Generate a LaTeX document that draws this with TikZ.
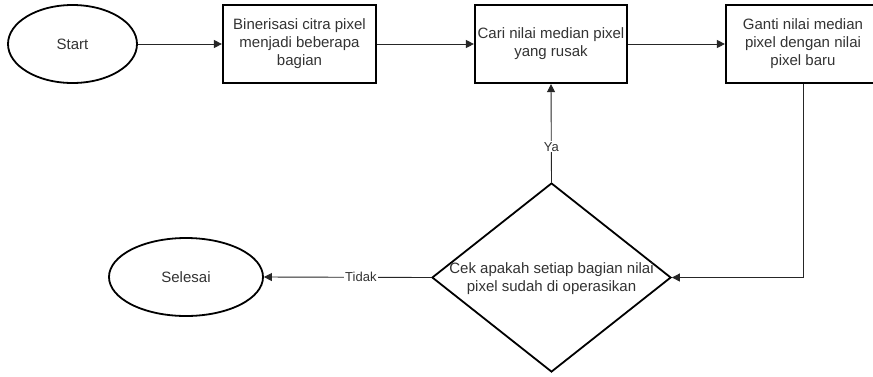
\documentclass[tikz,border=0pt]{standalone}
\usepackage{fontspec}
\setmainfont{Liberation Sans}
\usetikzlibrary{shapes.geometric,arrows.meta}
\definecolor{txt}{HTML}{333333}
\tikzset{
  base/.style={draw=black, fill=white, text=txt, align=center, inner sep=0pt,
    font=\fontsize{15}{18}\selectfont},
  term/.style={base, ellipse, line width=1.8pt, minimum width=129pt, minimum height=78pt},
  proc/.style={base, rectangle, line width=2.2pt, minimum height=78pt},
  dec/.style={base, diamond, line width=1.8pt, minimum width=239pt, minimum height=189pt},
  plain/.style={text=txt, align=center, inner sep=0pt, font=\fontsize{15}{18}\selectfont},
  conn/.style={draw=black!85, line width=0.9pt, -{Triangle[length=8pt,width=8pt]}},
  lbl/.style={fill=white, text=txt, inner sep=1pt, font=\fontsize{13}{15}\selectfont}
}
\begin{document}
\begin{tikzpicture}[x=1pt,y=-1pt]
\useasboundingbox (0,0) rectangle (873,376);
\clip (0,0) rectangle (873,376);
\fill[white] (0,0) rectangle (873,376);
\node[term] (start) at (72.5,44) {Start};
\node[proc, minimum width=153pt] (b1) at (299.5,44) {Binerisasi citra pixel\\menjadi beberapa\\bagian};
\node[proc, minimum width=152pt] (b2) at (551,44) {Cari nilai median pixel\\yang rusak};
\node[proc, minimum width=154pt] (b3) at (803,44) {Ganti nilai median\\pixel dengan nilai\\pixel baru};
\node[dec] (d) at (551.5,277.5) {};
\node[plain] (dt) at (551.5,278.5) {Cek apakah setiap bagian nilai\\pixel sudah di operasikan};
\node[term, minimum width=154pt] (end) at (186,277) {Selesai};
\coordinate (c1) at (803,277.5);
\draw[conn] (start) -- (b1);
\draw[conn] (b1) -- (b2);
\draw[conn] (b2) -- (b3);
\draw[conn] (b3.south) -- (c1) -- (d.east);
\draw[conn] (d.north) -- node[lbl, pos=0.36] {Ya} (b2.south);
\draw[conn] (d.west) -- node[lbl, pos=0.42] {Tidak} (end.east);
\end{tikzpicture}
\end{document}
